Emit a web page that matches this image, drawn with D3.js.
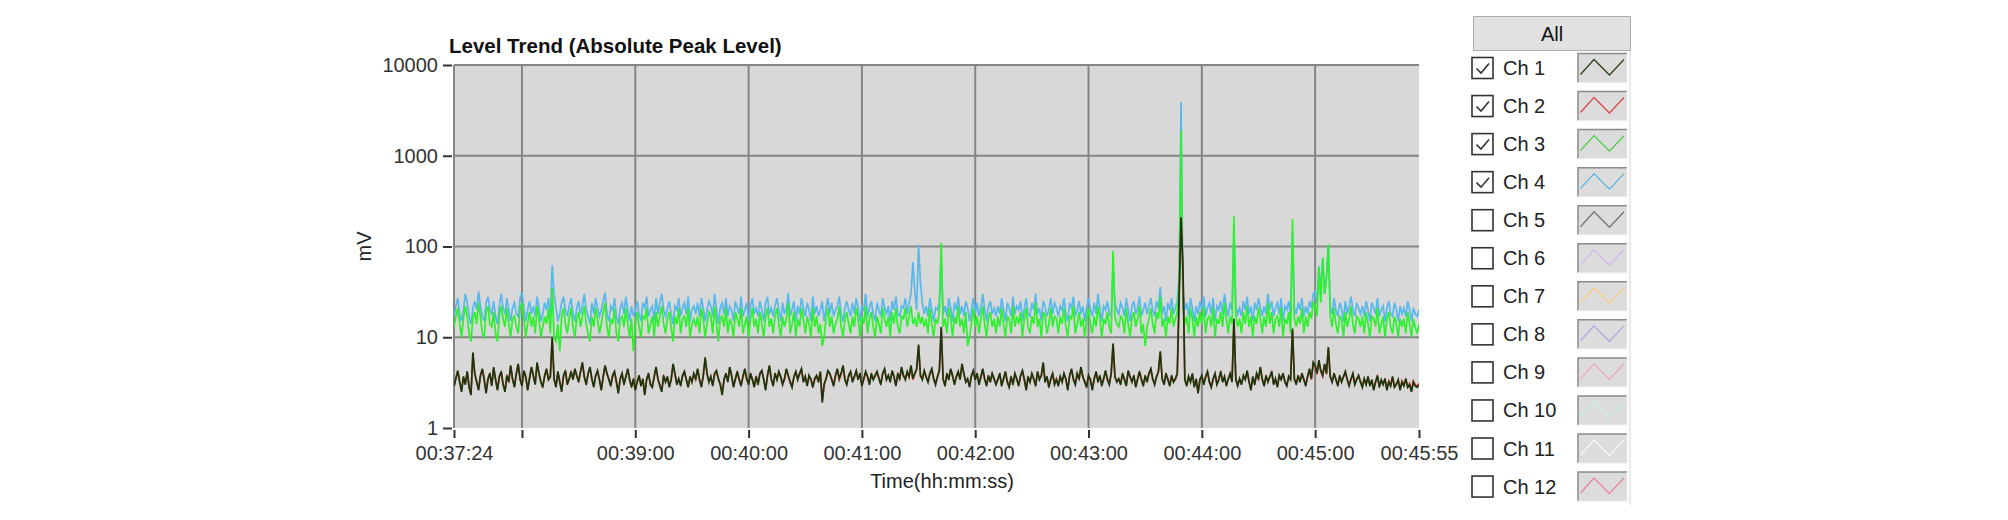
<!DOCTYPE html>
<html><head><meta charset="utf-8">
<script src="https://cdn.jsdelivr.net/npm/d3@7"></script>
<style>
html,body{margin:0;padding:0;background:#fff;}
svg{display:block;font-family:"Liberation Sans",Arial,sans-serif;}
</style></head>
<body>
<svg id="c" width="2008" height="520"></svg>
<script>
// ---------- data ----------
const chartTitle = "Level Trend (Absolute Peak Level)";
const startTime = "00:37:24";
const endTime = "00:45:55";
const sampleStepSec = 1;
const xTickTimes  = ["00:37:24","00:38:00","00:39:00","00:40:00","00:41:00","00:42:00","00:43:00","00:44:00","00:45:00","00:45:55"];
const xTickLabels = ["00:37:24","","00:39:00","00:40:00","00:41:00","00:42:00","00:43:00","00:44:00","00:45:00","00:45:55"];
const yTickValues = [1,10,100,1000,10000];
const yTickLabels = ["1","10","100","1000","10000"];

const channels = ["Ch 1","Ch 2","Ch 3","Ch 4","Ch 5","Ch 6","Ch 7","Ch 8","Ch 9","Ch 10","Ch 11","Ch 12"];
const traceColors = ["#1c360c","#e04848","#2ef02e","#58b8ec"];
const swatchColors = ["#2c4418","#e0484c","#44cc44","#58b4e4","#777777","#d4b8ec","#f2d08a","#a8a8e8","#eca6bb","#cdeee4","#f6f6f6","#e8869c"];
const channelChecked = [true,true,true,true,false,false,false,false,false,false,false,false];

const ch4 = [
17,22,27,18,15,20,30,24,17,14,21,25,20,32,22,17,15,24,28,20,18,25,17,14,22,30,21,18,27,20,15,21,
24,18,17,27,31,21,15,20,25,18,22,17,28,21,15,18,24,20,27,17,62,30,21,15,18,24,28,20,17,22,27,18,
15,21,25,18,22,30,20,17,14,24,18,27,21,17,20,25,31,18,15,22,20,27,17,14,21,24,18,28,20,15,22,17,
20,25,18,15,24,21,28,17,20,22,15,27,18,24,30,20,17,21,25,18,14,22,20,27,17,21,24,18,28,15,20,22,
18,24,17,27,21,15,20,25,22,17,30,20,14,21,24,18,27,17,22,20,15,25,21,18,28,17,20,24,15,22,27,18,
21,17,25,20,15,24,28,18,21,17,22,27,20,15,24,18,21,31,17,20,25,15,22,18,27,21,17,24,20,15,28,18,
22,17,20,25,15,21,27,18,24,17,20,22,28,18,15,21,25,20,17,24,18,27,21,15,22,20,30,17,21,25,18,15,
24,20,17,27,21,18,22,15,25,20,28,18,17,22,21,27,18,24,30,67,32,20,105,40,24,18,22,17,27,20,15,21,
20,25,80,18,22,17,27,21,15,24,20,28,18,22,17,25,21,15,20,27,18,24,17,21,30,20,15,22,25,18,21,17,
22,18,27,20,15,24,21,17,28,18,22,20,25,15,21,27,18,17,24,20,30,18,21,15,25,22,17,20,27,18,24,21,
17,22,20,27,18,15,24,21,28,17,20,25,18,22,15,21,27,20,17,24,18,30,21,15,22,20,25,18,17,60,24,20,
18,24,21,17,27,20,15,22,25,18,21,28,17,20,24,18,22,27,20,17,25,21,36,18,22,15,24,20,27,18,21,25,
45,3900,32,20,24,17,27,21,15,22,18,25,20,28,17,21,24,18,27,15,22,20,25,18,30,21,17,24,20,150,22,18,
21,17,25,20,28,18,22,15,24,20,27,21,17,22,18,30,20,25,17,21,24,18,27,15,22,20,25,17,140,21,18,24,
20,27,17,22,18,25,21,30,32,24,60,32,75,30,45,105,22,18,27,20,17,24,21,15,25,18,22,28,20,17,24,21,
18,22,17,25,20,15,24,21,18,27,17,20,22,15,21,25,18,17,24,20,15,22,18,21,17,25,20,15,21,18,17,20];

const ch3 = [
13,17,21,14,10,16,22,17,11,9,16,19,14,24,17,11,10,19,22,14,13,19,11,9,17,22,16,13,21,14,10,16,
17,13,11,21,24,16,10,14,19,13,17,11,22,16,10,13,17,14,21,11,35,10,9,14,7,17,21,14,11,16,21,13,
10,16,19,13,17,22,14,11,9,17,13,21,16,11,14,19,24,13,10,16,14,21,11,9,16,17,13,21,14,10,16,7,
14,19,13,10,17,16,21,11,14,17,10,19,13,17,22,14,11,16,19,13,9,17,14,21,11,16,17,13,21,10,14,16,
13,17,11,21,16,10,14,19,17,11,22,14,9,16,17,13,21,11,16,14,10,19,16,13,21,11,14,17,10,16,21,13,
16,11,19,14,10,17,21,13,16,11,17,21,14,10,17,13,16,24,11,14,19,10,16,13,21,16,11,17,14,10,21,13,
17,11,14,8,10,16,21,13,17,11,14,16,22,13,10,16,19,14,11,17,13,21,16,10,17,14,22,11,16,19,13,10,
17,14,11,21,16,13,17,10,19,14,21,13,11,17,16,21,13,17,22,14,16,13,19,14,17,13,16,11,21,14,10,16,
14,19,110,13,16,11,21,16,10,17,14,22,13,16,11,19,8,10,14,21,13,17,11,16,22,14,10,16,19,13,16,11,
17,13,21,14,10,17,16,11,22,13,17,14,19,10,16,21,13,11,17,14,24,13,16,10,19,17,11,14,21,13,17,16,
11,17,14,21,13,10,17,16,22,11,14,19,13,16,10,16,21,14,11,17,13,22,16,10,16,14,19,13,11,90,17,14,
13,17,16,11,21,14,10,16,19,13,16,22,11,14,8,13,16,21,14,11,19,16,28,13,16,10,17,14,21,13,16,19,
40,1900,22,14,17,11,21,16,10,17,13,19,14,22,11,16,17,13,21,10,16,14,19,13,24,16,11,17,14,215,17,13,
16,11,19,14,22,13,17,10,17,14,21,16,11,17,13,24,14,19,11,16,17,13,21,10,16,14,19,11,200,16,13,17,
14,21,11,17,13,19,16,24,22,17,60,24,75,30,45,105,17,13,21,14,11,17,16,10,19,13,16,22,14,11,17,16,
13,17,11,19,14,10,17,16,13,21,11,14,17,10,16,19,13,11,17,14,10,16,13,16,11,19,14,10,16,13,11,14];

const ch1 = [
2.9,3.5,4.3,3.2,2.5,3.7,3.0,4.2,2.8,2.3,6.8,4.0,3.2,2.6,3.8,4.5,3.4,2.4,3.5,4.0,2.9,4.7,3.4,2.6,3.7,4.2,3.0,2.5,3.8,3.2,4.9,3.5,
2.8,4.0,5.1,3.4,2.9,4.3,3.7,2.6,3.5,4.7,3.8,3.0,5.3,4.0,3.2,2.8,3.8,4.5,3.4,3.7,10,3.5,2.8,4.2,3.2,2.5,3.8,4.3,3.0,3.5,4.2,3.4,
4.5,3.8,3.2,4.2,5.3,3.7,3.0,4.0,4.7,3.5,2.8,3.8,4.3,3.4,2.6,3.7,4.9,4.0,3.4,2.9,3.8,4.2,3.2,2.4,3.5,4.0,3.0,3.7,4.5,3.4,2.8,3.5,
2.6,3.2,3.8,2.9,3.5,2.3,3.4,4.0,3.0,2.8,3.7,4.7,3.5,2.9,2.5,3.8,3.2,3.7,2.8,3.4,5.1,4.0,3.0,3.5,2.9,3.8,4.2,3.4,2.8,3.7,3.2,4.0,
3.5,4.5,3.4,2.8,3.8,6.0,4.0,3.2,3.7,2.9,4.0,4.3,3.5,3.0,2.3,3.4,4.0,3.2,4.7,3.8,2.8,3.5,4.2,3.4,2.9,3.7,4.5,3.5,3.0,4.0,3.4,2.8,
3.7,3.0,4.0,4.3,3.4,2.6,3.8,4.9,3.5,2.9,4.0,3.4,4.2,3.7,3.0,3.5,4.5,3.8,3.2,2.8,3.7,4.2,3.4,4.0,4.5,3.2,3.7,2.9,3.8,3.4,2.8,3.5,
3.8,3.2,4.2,1.9,3.0,3.5,4.3,4.0,3.4,2.9,3.8,4.5,3.5,4.0,4.9,3.4,3.0,3.8,4.2,3.2,3.7,4.3,3.4,4.0,2.9,3.5,4.2,3.7,3.0,4.0,3.4,3.8,
4.2,3.5,3.0,4.0,4.5,3.4,3.8,3.2,4.3,3.7,2.9,4.0,3.5,4.7,3.8,3.4,4.2,3.7,4.9,3.5,4.0,4.5,8.3,3.8,3.4,4.3,3.7,3.2,4.0,4.5,3.5,3.0,
3.7,4.3,13,3.5,2.9,4.0,3.4,4.5,3.8,3.0,3.7,4.2,3.4,5.1,4.0,3.2,3.5,2.8,3.8,4.3,3.4,4.0,3.0,3.7,4.5,3.5,2.9,3.8,3.2,4.0,3.5,3.0,
3.4,4.0,2.9,3.5,4.2,3.2,2.8,3.7,3.0,4.0,3.5,2.9,3.8,4.3,3.4,2.6,3.7,3.2,4.0,3.5,2.9,4.2,3.4,3.8,5.3,3.2,3.7,2.8,3.5,4.0,3.0,3.4,
2.9,3.7,3.2,4.0,3.5,2.6,3.8,4.5,3.4,3.0,4.0,3.5,4.7,3.7,3.2,2.8,3.8,3.4,2.6,3.5,4.2,3.2,3.8,2.9,3.5,4.3,3.4,3.0,4.0,8.5,3.7,3.2,
3.5,3.0,4.0,3.4,2.9,4.3,3.7,3.2,3.8,2.8,3.5,4.2,3.4,2.9,3.8,3.2,4.0,4.5,3.5,3.0,3.7,4.2,7.0,3.5,3.0,4.0,3.4,2.9,3.8,3.2,3.5,4.0,
30,210,60,3.4,2.9,3.7,3.2,4.0,2.8,3.5,2.4,3.4,3.8,3.0,3.7,4.2,3.2,2.8,3.5,4.0,3.0,3.4,4.2,3.2,3.7,2.9,3.5,4.0,3.2,16,3.4,2.9,
3.5,3.0,3.8,3.4,4.3,3.2,2.6,3.7,3.0,4.0,3.5,4.7,3.4,2.9,3.8,3.2,3.7,4.2,3.0,3.5,2.8,3.8,3.4,4.0,3.2,2.9,3.7,3.4,12.5,3.5,3.0,3.8,
3.2,4.0,3.4,2.9,3.7,4.5,3.5,5.3,4.9,4.0,5.6,4.3,3.8,5.1,4.0,7.8,3.7,3.2,4.0,3.4,2.9,3.8,3.2,3.7,4.2,3.4,2.9,3.5,4.0,3.0,3.4,3.8,
3.2,2.8,3.5,3.0,3.7,2.9,3.4,2.6,3.2,3.8,2.8,3.4,3.0,3.5,2.6,3.2,2.9,3.7,2.8,3.0,3.4,2.6,3.2,2.9,3.5,2.8,3.0,2.5,3.2,2.9,2.8,3.0];

const ch2 = [
2.8,3.6,4.2,3.3,2.6,3.6,3.1,4.1,2.9,2.4,6.5,3.9,3.3,2.7,3.7,4.4,3.5,2.5,3.4,3.9,3.0,4.6,3.5,2.7,3.6,4.1,3.1,2.6,3.7,3.3,4.8,3.4,
2.9,3.9,5.0,3.5,3.0,4.2,3.6,2.7,3.6,4.6,3.7,3.1,5.1,3.9,3.3,2.9,3.7,4.4,3.5,3.6,9.6,3.4,2.9,4.1,3.3,2.6,3.7,4.2,3.1,3.4,4.1,3.5,
4.4,3.7,3.3,4.1,5.1,3.6,3.1,3.9,4.6,3.4,2.9,3.7,4.2,3.5,2.7,3.6,4.8,3.9,3.5,3.0,3.7,4.1,3.3,2.5,3.4,3.9,3.1,3.6,4.4,3.5,2.9,3.4,
2.7,3.3,3.7,3.0,3.4,2.4,3.5,3.9,3.1,2.9,3.6,4.6,3.4,3.0,2.6,3.7,3.3,3.6,2.9,3.5,5.0,3.9,3.1,3.4,3.0,3.7,4.1,3.5,2.9,3.6,3.3,3.9,
3.4,4.4,3.5,2.9,3.7,5.8,3.9,3.3,3.6,3.0,3.9,4.2,3.4,3.1,2.4,3.5,3.9,3.3,4.6,3.7,2.9,3.4,4.1,3.5,3.0,3.6,4.4,3.4,3.1,3.9,3.5,2.9,
3.6,3.1,3.9,4.2,3.5,2.7,3.7,4.8,3.4,3.0,3.9,3.5,4.1,3.6,3.1,3.4,4.4,3.7,3.3,2.9,3.6,4.1,3.5,3.9,4.4,3.3,3.6,3.0,3.7,3.5,2.9,3.4,
3.7,3.3,4.1,2.0,3.1,3.4,4.2,3.9,3.5,3.0,3.7,4.4,3.4,3.9,4.8,3.5,3.1,3.7,4.1,3.3,3.6,4.2,3.5,3.9,3.0,3.4,4.1,3.6,3.1,3.9,3.5,3.7,
4.1,3.6,3.1,3.9,4.4,3.5,3.7,3.3,4.2,3.6,3.0,3.9,3.4,4.6,3.7,3.5,4.1,3.6,4.8,3.4,3.9,4.4,8.0,3.7,3.5,4.2,3.6,3.3,3.9,4.4,3.4,3.1,
3.6,4.2,12.5,3.4,3.0,3.9,3.5,4.4,3.7,3.1,3.6,4.1,3.5,5.0,3.9,3.3,3.4,2.9,3.7,4.2,3.5,3.9,3.1,3.6,4.4,3.4,3.0,3.7,3.3,3.9,3.4,3.1,
3.5,3.9,3.0,3.4,4.1,3.3,2.9,3.6,3.1,3.9,3.4,3.0,3.7,4.2,3.5,2.7,3.6,3.3,3.9,3.4,3.0,4.1,3.5,3.7,5.1,3.3,3.6,2.9,3.4,3.9,3.1,3.5,
3.0,3.6,3.3,3.9,3.4,2.7,3.7,4.4,3.5,3.1,3.9,3.4,4.6,3.6,3.3,2.9,3.7,3.5,2.7,3.4,4.1,3.3,3.7,3.0,3.4,4.2,3.5,3.1,3.9,8.2,3.6,3.3,
3.4,3.1,3.9,3.5,3.0,4.2,3.6,3.3,3.7,2.9,3.4,4.1,3.5,3.0,3.7,3.3,3.9,4.4,3.4,3.1,3.6,4.1,6.8,3.4,3.1,3.9,3.5,3.0,3.7,3.3,3.4,3.9,
28,205,55,3.5,3.0,3.6,3.3,3.9,2.9,3.4,2.5,3.5,3.7,3.1,3.6,4.1,3.3,2.9,3.4,3.9,3.1,3.5,4.1,3.3,3.6,3.0,3.4,3.9,3.3,15.5,3.5,3.0,
3.4,3.1,3.7,3.5,4.2,3.3,2.7,3.6,3.1,3.9,3.4,4.6,3.5,3.0,3.7,3.3,3.6,4.1,3.1,3.4,2.9,3.7,3.5,3.9,3.3,3.0,3.6,3.5,12,3.4,3.1,3.7,
3.3,3.9,3.5,3.0,3.6,4.4,3.4,5.1,4.8,3.9,5.4,4.2,3.7,5.0,3.9,7.5,3.6,3.3,3.9,3.5,3.0,3.7,3.3,3.6,4.1,3.5,3.0,3.4,3.9,3.1,3.5,3.7,
3.3,2.9,3.4,3.1,3.6,3.0,3.3,2.7,3.3,3.7,2.9,3.3,3.1,3.4,2.7,3.3,3.0,3.6,2.9,3.1,3.3,2.7,3.3,3.0,3.4,2.9,3.1,2.6,3.3,3.0,2.9,3.1];

// ---------- layout ----------
const P = {left:454, right:1419, top:65, bottom:428};
const toSec = s => { const [h,m,x] = s.split(":").map(Number); return h*3600+m*60+x; };
const t0 = toSec(startTime), t1 = toSec(endTime);
const times = ch1.map((_,i) => t0 + i*sampleStepSec);

const svg = d3.select("#c");
const x = d3.scaleLinear().domain([t0,t1]).range([P.left,P.right]);
const y = d3.scaleLog().domain([1,10000]).range([P.bottom,P.top]);

// plot background
svg.append("rect").attr("x",P.left).attr("y",P.top).attr("width",P.right-P.left).attr("height",P.bottom-P.top).attr("fill","#d8d8d8");

// grid
const gridColor = "#858585";
svg.append("g").selectAll("line").data(xTickTimes.slice(1,-1)).join("line")
  .attr("x1",d=>x(toSec(d))).attr("x2",d=>x(toSec(d))).attr("y1",P.top).attr("y2",P.bottom)
  .attr("stroke",gridColor).attr("stroke-width",2);
svg.append("g").selectAll("line").data(yTickValues.slice(1)).join("line")
  .attr("x1",P.left).attr("x2",P.right).attr("y1",d=>y(d)).attr("y2",d=>y(d))
  .attr("stroke",gridColor).attr("stroke-width",2);
svg.append("line").attr("x1",P.left).attr("x2",P.left).attr("y1",P.top).attr("y2",P.bottom).attr("stroke",gridColor).attr("stroke-width",2);

// traces
svg.append("clipPath").attr("id","clip").append("rect").attr("x",P.left).attr("y",P.top).attr("width",P.right-P.left).attr("height",P.bottom-P.top);
const line = d3.line().x((d,i)=>x(times[i])).y(d=>y(d));
const series = [ch1,ch2,ch3,ch4];
const tg = svg.append("g").attr("clip-path","url(#clip)");
[3,2,1,0].forEach(k=>{
  tg.append("path").attr("d",line(series[k])).attr("fill","none")
    .attr("stroke",traceColors[k]).attr("stroke-width",1.7).attr("stroke-linejoin","miter");
});

// y axis
const yAxis = d3.axisLeft(y).tickValues(yTickValues).tickFormat((d,i)=>yTickLabels[i]).tickSize(9).tickPadding(5);
const ya = svg.append("g").attr("transform",`translate(${P.left-2},0)`).call(yAxis);
ya.select(".domain").remove();
ya.selectAll(".tick line").attr("stroke","#333").attr("stroke-width",2);
ya.selectAll(".tick text").attr("font-size",20).attr("fill","#333").attr("font-family","Liberation Sans, Arial, sans-serif");

// x axis
const xAxis = d3.axisBottom(x).tickValues(xTickTimes.map(toSec)).tickFormat((d,i)=>xTickLabels[i]).tickSize(8).tickPadding(8);
const xa = svg.append("g").attr("transform",`translate(0,${P.bottom+2})`).call(xAxis);
xa.select(".domain").remove();
xa.selectAll(".tick line").attr("stroke","#333").attr("stroke-width",2);
xa.selectAll(".tick text").attr("font-size",20).attr("fill","#333").attr("font-family","Liberation Sans, Arial, sans-serif");

// titles
svg.append("text").attr("x",449).attr("y",53).attr("font-size",20.5).attr("font-weight","bold").attr("fill","#111").text(chartTitle);
svg.append("text").attr("transform",`translate(371,${(P.top+P.bottom)/2}) rotate(-90)`).attr("text-anchor","middle")
  .attr("font-size",20).attr("fill","#222").text("mV");
svg.append("text").attr("x",942).attr("y",488).attr("text-anchor","middle").attr("font-size",20).attr("fill","#222").text("Time(hh:mm:ss)");

// legend
const L = svg.append("g");
L.append("line").attr("x1",1630).attr("x2",1630).attr("y1",52).attr("y2",505).attr("stroke","#d4d4d4").attr("stroke-width",1);
L.append("rect").attr("x",1473.5).attr("y",16.5).attr("width",157).attr("height",34).attr("fill","#e1e1e1").attr("stroke","#adadad");
L.append("text").attr("x",1552).attr("y",41).attr("text-anchor","middle").attr("font-size",20).attr("fill","#111").text("All");
const rowY = i => 68 + 38.05*i;
const rows = L.selectAll("g.row").data(channels).join("g").attr("class","row")
  .attr("transform",(d,i)=>`translate(0,${rowY(i)})`);
rows.append("rect").attr("x",1472).attr("y",-10.5).attr("width",21).attr("height",21).attr("fill","#fff").attr("stroke","#333").attr("stroke-width",1.6);
rows.filter((d,i)=>channelChecked[i]).append("path").attr("d","M1476.5,0.5 L1481,5 L1489,-4.5").attr("fill","none").attr("stroke","#333").attr("stroke-width",1.6);
rows.append("text").attr("x",1503).attr("y",7).attr("font-size",20).attr("fill","#222").text(d=>d);
rows.append("rect").attr("x",1578).attr("y",-14.5).attr("width",49).attr("height",29).attr("fill","#dcdcdc");
rows.append("path").attr("d","M1578,14.5 V-14.5 H1627").attr("fill","none").attr("stroke","#8a8a8a").attr("stroke-width",1.5);
rows.append("path").attr("d","M1627,-14.5 V14.5 H1578").attr("fill","none").attr("stroke","#ececec").attr("stroke-width",1);
rows.append("path").attr("d","M1580.5,6.5 L1594,-8.5 L1609.5,7 L1624,-8.5").attr("fill","none")
  .attr("stroke",(d,i)=>swatchColors[i]).attr("stroke-width",1.3);
</script>
</body></html>
